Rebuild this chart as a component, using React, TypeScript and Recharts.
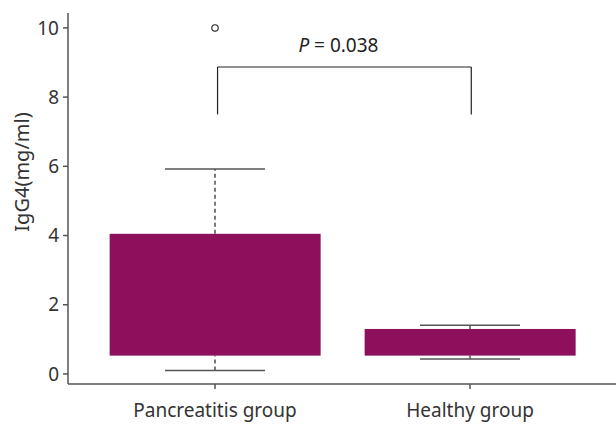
import React from "react"
import {
  ComposedChart,
  Bar,
  Scatter,
  XAxis,
  YAxis,
  ReferenceLine,
} from "recharts"

// Box plot summary per group
const CATEGORIES = ["Pancreatitis group", "Healthy group"]
const MIN_VALUES = [0.1, 0.43]
const Q1_VALUES = [0.53, 0.53]
const Q3_VALUES = [4.05, 1.3]
const MAX_VALUES = [5.92, 1.41]
const OUTLIERS = [{ x: 1, y: 10 }]

const Y_TICKS = [0, 2, 4, 6, 8, 10]
const X_TICKS = [1, 2]
const Y_DOMAIN = [-0.29, 10.43]
const X_DOMAIN = [0.4235, 2.5725]

// significance bracket
const BRACKET_X = [1.01, 2.005]
const BRACKET_BOTTOM = 7.5
const BRACKET_TOP = 8.87
const P_LABEL = [{ x: 1.484, y: 9.31 }]

const BOX_COLOR = "#8e0f5c"
const AXIS_COLOR = "#555"
const TEXT_COLOR = "#333"
const FONT = "'Noto Sans', sans-serif"
const CAP_HALF = 0.196
const BOX_WIDTH = 211

// no page margin, no scrollbars
if (typeof document !== "undefined") {
  document.body.style.margin = "0"
  document.documentElement.style.overflow = "hidden"
  document.body.style.overflow = "hidden"
}

const boxData = CATEGORIES.map((name, i) => ({
  x: i + 1,
  name,
  base: Q1_VALUES[i],
  box: Q3_VALUES[i] - Q1_VALUES[i],
}))

// wide box drawn around the bar's own center
const BoxShape = (props: any) => {
  const { x, y, width, height } = props
  const cx = x + width / 2
  return <rect x={cx - BOX_WIDTH / 2} y={y} width={BOX_WIDTH} height={height} fill={BOX_COLOR} />
}

export default function App() {
  return (
    <div style={{ width: 616, height: 426, background: "#fff", fontFamily: FONT, overflow: "hidden" }}>
      <ComposedChart
        width={616}
        height={426}
        data={boxData}
        margin={{ top: 13, right: 0, left: 0, bottom: 0 }}
      >
        <XAxis
          dataKey="x"
          type="number"
          domain={X_DOMAIN}
          ticks={X_TICKS}
          allowDataOverflow
          tickFormatter={(v) => CATEGORIES[v - 1] ?? ""}
          stroke={AXIS_COLOR}
          strokeWidth={1.5}
          tickSize={5}
          tickMargin={15}
          height={42}
          tick={{ fill: TEXT_COLOR, fontSize: 19, fontFamily: FONT }}
        />
        <YAxis
          type="number"
          domain={Y_DOMAIN}
          ticks={Y_TICKS}
          allowDataOverflow
          width={68}
          stroke={AXIS_COLOR}
          strokeWidth={1.5}
          tickSize={5}
          tickMargin={4}
          tick={{ fill: TEXT_COLOR, fontSize: 19, fontFamily: FONT }}
          label={{
            content: () => (
              <text
                x={0}
                y={0}
                transform="translate(29,172) rotate(-90)"
                textAnchor="middle"
                fill={TEXT_COLOR}
                fontSize={20}
                fontFamily={FONT}
              >
                IgG4(mg/ml)
              </text>
            ),
          }}
        />
        <Bar dataKey="base" stackId="box" fill="transparent" isAnimationActive={false} />
        <Bar dataKey="box" stackId="box" fill={BOX_COLOR} shape={BoxShape} isAnimationActive={false} />

        {CATEGORIES.map((c, i) => (
          <ReferenceLine
            key={`wl-${c}`}
            segment={[{ x: i + 1, y: MIN_VALUES[i] }, { x: i + 1, y: Q1_VALUES[i] }]}
            stroke="#222"
            strokeDasharray="4 3"
            strokeWidth={1.2}
          />
        ))}
        {CATEGORIES.map((c, i) => (
          <ReferenceLine
            key={`wu-${c}`}
            segment={[{ x: i + 1, y: Q3_VALUES[i] }, { x: i + 1, y: MAX_VALUES[i] }]}
            stroke="#222"
            strokeDasharray="4 3"
            strokeWidth={1.2}
          />
        ))}
        {CATEGORIES.map((c, i) => (
          <ReferenceLine
            key={`cmin-${c}`}
            segment={[{ x: i + 1 - CAP_HALF, y: MIN_VALUES[i] }, { x: i + 1 + CAP_HALF, y: MIN_VALUES[i] }]}
            stroke={AXIS_COLOR}
            strokeWidth={1.5}
          />
        ))}
        {CATEGORIES.map((c, i) => (
          <ReferenceLine
            key={`cmax-${c}`}
            segment={[{ x: i + 1 - CAP_HALF, y: MAX_VALUES[i] }, { x: i + 1 + CAP_HALF, y: MAX_VALUES[i] }]}
            stroke={AXIS_COLOR}
            strokeWidth={1.5}
          />
        ))}

        <ReferenceLine
          segment={[{ x: BRACKET_X[0], y: BRACKET_BOTTOM }, { x: BRACKET_X[0], y: BRACKET_TOP }]}
          stroke="#222"
          strokeWidth={1.2}
        />
        <ReferenceLine
          segment={[{ x: BRACKET_X[0], y: BRACKET_TOP }, { x: BRACKET_X[1], y: BRACKET_TOP }]}
          stroke="#222"
          strokeWidth={1.2}
        />
        <ReferenceLine
          segment={[{ x: BRACKET_X[1], y: BRACKET_TOP }, { x: BRACKET_X[1], y: BRACKET_BOTTOM }]}
          stroke="#222"
          strokeWidth={1.2}
        />

        <Scatter
          data={OUTLIERS}
          dataKey="y"
          isAnimationActive={false}
          shape={(props: any) => (
            <circle cx={props.cx} cy={props.cy} r={3.2} fill="#fff" stroke="#222" strokeWidth={1.1} />
          )}
        />
        <Scatter
          data={P_LABEL}
          dataKey="y"
          isAnimationActive={false}
          shape={(props: any) => (
            <text x={props.cx} y={props.cy} textAnchor="middle" fill="#222" fontSize={19} fontFamily={FONT}>
              <tspan fontStyle="italic">P</tspan> = 0.038
            </text>
          )}
        />
      </ComposedChart>
    </div>
  )
}
